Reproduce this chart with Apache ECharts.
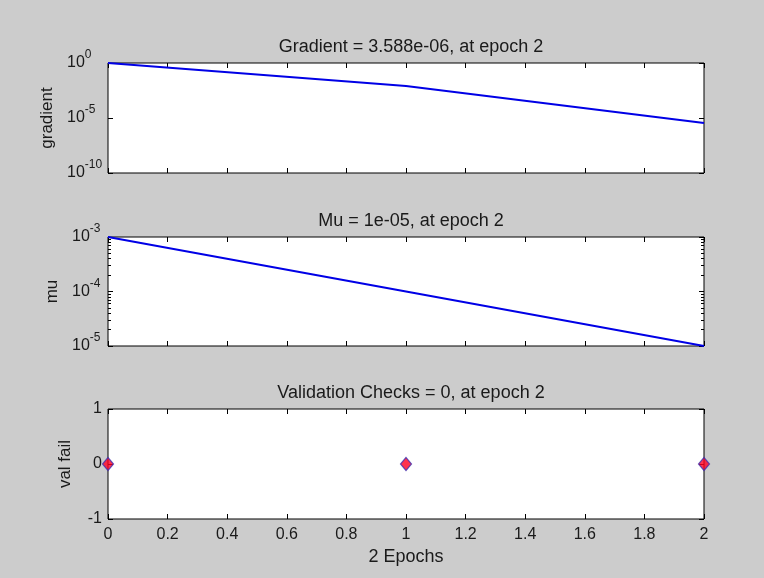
<!DOCTYPE html>
<html>
<head>
<meta charset="utf-8">
<script src="https://cdn.jsdelivr.net/npm/echarts@6/dist/echarts.min.js"></script>
<style>
  html, body { margin: 0; padding: 0; background: #cccccc; }
  #main { width: 764px; height: 578px; }
</style>
</head>
<body>
<div id="main"></div>
<script>
// epochs and recorded values (training record)
const epochs = [0, 1, 2];
const gradientValues = [1.0, 0.0081, 3.588e-6];
const muValues = [1e-3, 1e-4, 1e-5];
const valFailValues = [0, 0, 0];

// tick positions
const xTicks = [0, 0.2, 0.4, 0.6, 0.8, 1, 1.2, 1.4, 1.6, 1.8, 2];
const gradientTicks = [1e-10, 1e-5, 1];
const muTicks = [1e-5, 1e-4, 1e-3];
const muMinorTicks = [2e-5, 3e-5, 4e-5, 5e-5, 6e-5, 7e-5, 8e-5, 9e-5,
  2e-4, 3e-4, 4e-4, 5e-4, 6e-4, 7e-4, 8e-4, 9e-4];
const valFailTicks = [-1, 0, 1];

const titles = [
  'Gradient = 3.588e-06, at epoch 2',
  'Mu = 1e-05, at epoch 2',
  'Validation Checks = 0, at epoch 2'
];
const yNames = ['gradient', 'mu', 'val fail'];
const xName = '2 Epochs';

const font = 'Liberation Sans, Arial, sans-serif';
const textColor = '#1a1a1a';

// 10^n labels with a raised exponent
function powLabel(v) {
  const e = Math.round(Math.log10(v));
  return '{b|10}{s|' + e + '}';
}
const powRich = {
  b: { fontSize: 16, lineHeight: 28, fontFamily: font, color: textColor },
  s: { fontSize: 12, lineHeight: 16, verticalAlign: 'top', fontFamily: font, color: textColor }
};

const tops = [63, 237, 409];
const heights = [110, 109, 110];

let chart = echarts.init(document.getElementById('main'));

let grids = tops.map((t, i) => ({
  left: 108, right: 60, top: t, height: heights[i],
  show: true, backgroundColor: '#ffffff', borderColor: '#000000', borderWidth: 1
}));

let xAxes = [];
for (let i = 0; i < 3; i++) {
  ['bottom', 'top'].forEach(pos => {
    let withLabel = i === 2 && pos === 'bottom';
    xAxes.push({
      type: 'value', gridIndex: i, position: pos, min: 0, max: 2, interval: 0.2,
      axisLine: { show: false, onZero: false },
      axisTick: { show: true, inside: true, length: 5, customValues: xTicks, lineStyle: { color: '#000' } },
      splitLine: { show: false },
      axisLabel: {
        show: withLabel, margin: 8, customValues: xTicks,
        fontSize: 16, fontFamily: font, color: textColor
      },
      name: withLabel ? xName : '',
      nameLocation: 'middle', nameGap: 29,
      nameTextStyle: { fontSize: 18, fontFamily: font, color: textColor }
    });
  });
}

let yAxes = [];
// one y axis per side; extra ones only carry ticks
function addY(i, pos, opts) {
  let ax = {
    gridIndex: i, position: pos,
    axisLine: { show: false, onZero: false },
    axisTick: { show: true, inside: true, length: 5, lineStyle: { color: '#000' } },
    splitLine: { show: false },
    axisLabel: { show: false },
    nameLocation: 'middle',
    nameTextStyle: { fontSize: 17, fontFamily: font, color: textColor }
  };
  Object.keys(opts).forEach(k => {
    ax[k] = (typeof opts[k] === 'object' && !Array.isArray(opts[k]) && ax[k])
      ? Object.assign({}, ax[k], opts[k]) : opts[k];
  });
  yAxes.push(ax);
  return yAxes.length - 1;
}

// panel 1: gradient (log)
const gradAxis = addY(0, 'left', {
  type: 'log', logBase: 10, min: 1e-10, max: 1,
  name: yNames[0], nameGap: 52,
  axisTick: { customValues: gradientTicks },
  axisLabel: { show: true, customValues: gradientTicks, formatter: powLabel, rich: powRich, align: 'left', margin: 41 }
});
addY(0, 'right', {
  type: 'log', logBase: 10, min: 1e-10, max: 1,
  axisTick: { customValues: gradientTicks }
});

// panel 2: mu (log, with minor ticks)
const muAxis = addY(1, 'left', {
  type: 'log', logBase: 10, min: 1e-5, max: 1e-3,
  name: yNames[1], nameGap: 44,
  axisTick: { customValues: muTicks },
  axisLabel: { show: true, customValues: muTicks, formatter: powLabel, rich: powRich, align: 'left', margin: 36 }
});
addY(1, 'right', {
  type: 'log', logBase: 10, min: 1e-5, max: 1e-3,
  axisTick: { customValues: muTicks }
});
['left', 'right'].forEach(pos => addY(1, pos, {
  type: 'log', logBase: 10, min: 1e-5, max: 1e-3,
  axisTick: { customValues: muMinorTicks, length: 3 }
}));

// panel 3: validation failures
const valAxis = addY(2, 'left', {
  type: 'value', min: -1, max: 1, interval: 1,
  name: yNames[2], nameGap: 34,
  axisTick: { customValues: valFailTicks },
  axisLabel: { show: true, customValues: valFailTicks, margin: 6, fontSize: 16, fontFamily: font, color: textColor }
});
addY(2, 'right', {
  type: 'value', min: -1, max: 1, interval: 1,
  axisTick: { customValues: valFailTicks }
});

let option = {
  backgroundColor: '#cccccc',
  animation: false,
  title: titles.map((t, i) => ({
    text: t, left: 406, top: tops[i] - 30, textAlign: 'center',
    textStyle: { fontSize: 18, fontWeight: 'normal', fontFamily: font, color: textColor }
  })),
  grid: grids,
  xAxis: xAxes,
  yAxis: yAxes,
  series: [
    {
      type: 'line', xAxisIndex: 0, yAxisIndex: gradAxis, showSymbol: false,
      lineStyle: { color: '#0000e6', width: 2 },
      data: epochs.map((e, k) => [e, gradientValues[k]])
    },
    {
      type: 'line', xAxisIndex: 2, yAxisIndex: muAxis, showSymbol: false,
      lineStyle: { color: '#0000e6', width: 2 },
      data: epochs.map((e, k) => [e, muValues[k]])
    },
    {
      type: 'scatter', xAxisIndex: 4, yAxisIndex: valAxis, clip: false,
      symbol: 'diamond', symbolSize: [11, 13],
      itemStyle: { color: '#ff0022', borderColor: '#4030b0', borderWidth: 1.2 },
      data: epochs.map((e, k) => [e, valFailValues[k]])
    }
  ]
};

option && chart.setOption(option);
</script>
</body>
</html>
